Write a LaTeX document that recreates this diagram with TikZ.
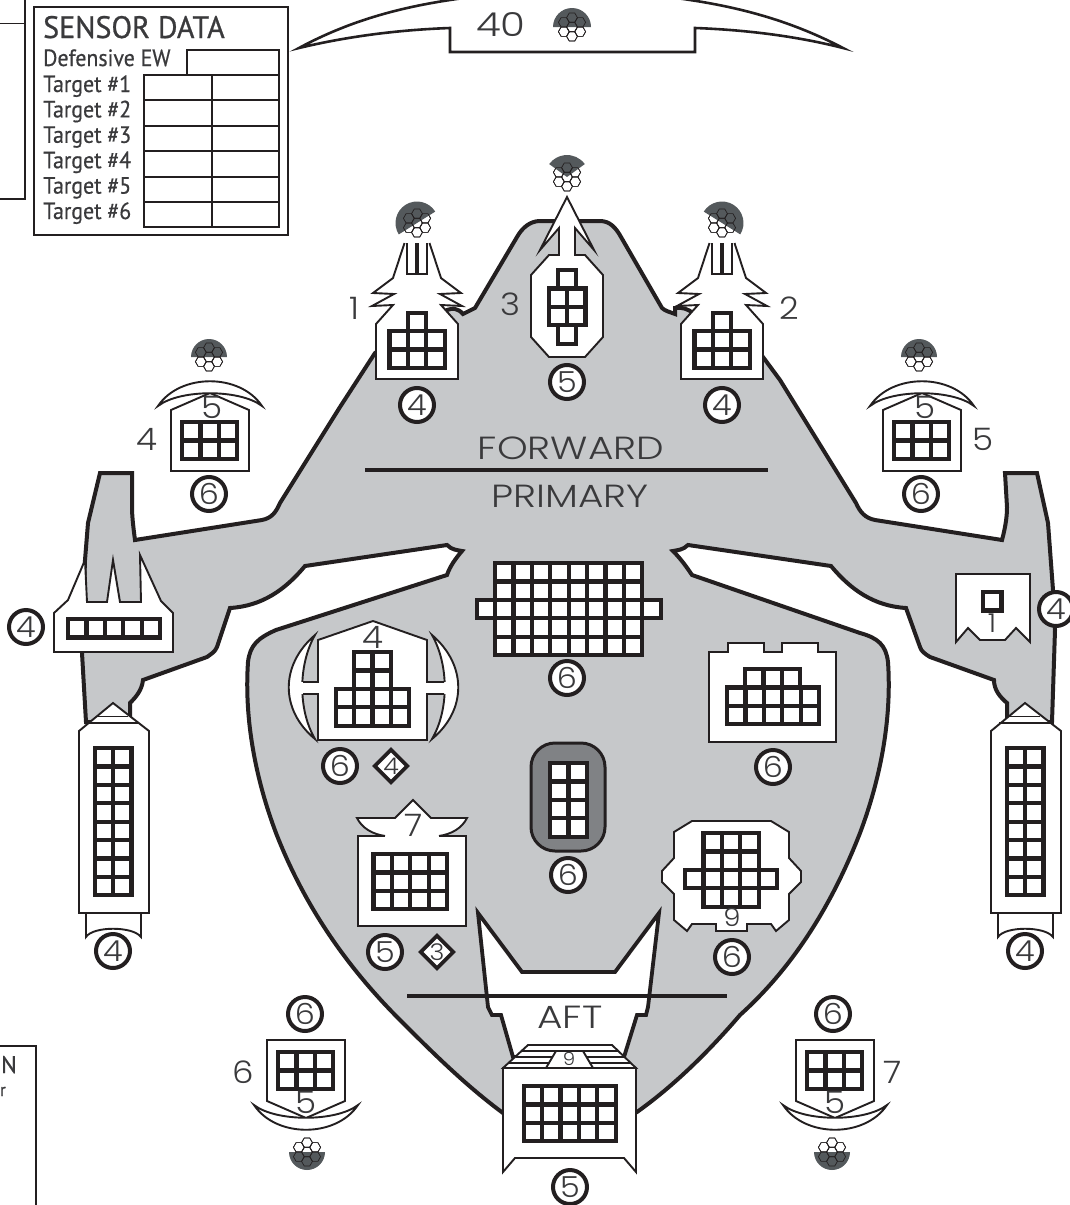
\documentclass[tikz,border=0pt]{standalone}
\usepackage{fontspec}
\usepackage{xcolor}
\usetikzlibrary{shapes.geometric}
\setmainfont{PT Sans}
\newfontfamily\gaunt[FakeStretch=1.1]{Poppins Light}
\newfontfamily\gauntwide[FakeStretch=1.22]{Poppins Light}
\newfontfamily\tabfont[FakeStretch=0.93,FakeBold=0.6]{PT Sans}
\newfontfamily\headfont[FakeStretch=0.97,FakeBold=0.8]{PT Sans}
\definecolor{cInk}{HTML}{231F20}
\definecolor{cHull}{HTML}{C6C8CA}
\definecolor{cCore}{HTML}{808285}
\definecolor{cGun}{HTML}{54595C}
\definecolor{cText}{HTML}{3A3A3C}
\tikzset{
  hullshape/.style={draw=cInk,fill=cHull,line width=4pt},
  aftshape/.style={draw=cInk,fill=white,line width=3.8pt},
  mountshape/.style={draw=cInk,fill=white,line width=1.9pt},
  edgeline/.style={draw=cInk,line width=1.9pt},
  divline/.style={draw=cInk,line width=3.8pt},
  cellline/.style={draw=cInk,fill=white,line width=4.2pt},
  thinline/.style={draw=cInk,line width=2pt},
  hexline/.style={draw=cInk,line width=0.7pt},
  numcirc/.style={circle,draw=cInk,fill=white,line width=4pt,minimum size=34pt,inner sep=0pt,
      text=cText,font=\gaunt\fontsize{29}{29}\selectfont},
  numdiam/.style={diamond,draw=cInk,fill=white,line width=3.6pt,minimum width=34pt,minimum height=34pt,
      inner sep=0pt,text=cText,font=\gaunt\fontsize{23}{23}\selectfont},
  numtext/.style={inner sep=0pt,text=cText,font=\gaunt\fontsize{31}{31}\selectfont},
  smalltext/.style={inner sep=0pt,text=cText,font=\gaunt\fontsize{18}{18}\selectfont},
  bigtext/.style={inner sep=0pt,text=cText,font=\gauntwide\fontsize{32}{32}\selectfont},
  tabtext/.style={inner sep=0pt,anchor=base west,text=cText,font=\tabfont\fontsize{23.5}{24}\selectfont},
}
\newcommand{\cellgrid}[4]{%
  \foreach \cc in {1,...,#3}{\foreach \rr in {1,...,#4}{
    \draw[cellline] ({#1+(\cc-1)*18.4},{#2+(\rr-1)*18.4}) rectangle ++(18.4,18.4);}}}
\newcommand{\hexgun}[5]{%
  \begin{scope}[shift={(#1,#2)},yscale=-1]
    \foreach \hx/\hy in {0/0,0/9.4,0/-9.4,8.2/4.7,8.2/-4.7,-8.2/4.7,-8.2/-4.7}
      \draw[hexline,fill=white,shift={(\hx,\hy)}] (0:5.4) -- (60:5.4) -- (120:5.4) -- (180:5.4)
        -- (240:5.4) -- (300:5.4) -- cycle;
    \fill[cGun] (0,0) -- (#3:#5) arc[start angle=#3,end angle=#4,radius=#5] -- cycle;
    \foreach \hx/\hy in {0/0,0/9.4,0/-9.4,8.2/4.7,8.2/-4.7,-8.2/4.7,-8.2/-4.7}
      \draw[hexline,shift={(\hx,\hy)}] (0:5.4) -- (60:5.4) -- (120:5.4) -- (180:5.4)
        -- (240:5.4) -- (300:5.4) -- cycle;
  \end{scope}}
\newcommand{\fwdmount}[1]{%
  \begin{scope}[shift={(#1,0)}]
    \filldraw[mountshape] (12.5,243) -- (24,278) -- (44,293) -- (23,294) -- (45,306) -- (24,305)
      -- (41,324) -- (41,379) -- (-41,379) -- (-41,324) -- (-24,305) -- (-45,306) -- (-23,294)
      -- (-44,293) -- (-24,278) -- (-12.5,243);
    \draw[edgeline] (10,243) -- (10,274) -- (-10,274) -- (-10,243);
    \draw[draw=cInk,line width=4pt] (0,243) -- (0,274);
    \cellgrid{-9.2}{312.6}{1}{1}
    \cellgrid{-27.6}{331}{3}{2}
  \end{scope}}
% side house: flip 1 points the fin up, flip -1 points it down
\newcommand{\sidehouse}[3]{%
  \begin{scope}[shift={(#1,#2)},yscale=#3]
    \filldraw[mountshape] (-39,39) -- (39,39) -- (39,-22) -- (0,-39) -- (-39,-22) -- cycle;
    \filldraw[mountshape] (-52,-26) .. controls (-30,-59) and (30,-59) .. (52,-26)
      .. controls (30,-43) and (-30,-43) .. cycle;
  \end{scope}}
\newcommand{\boom}[1]{%
  \begin{scope}[shift={(#1,0)}]
    \filldraw[mountshape] (-27,913) -- (-27,937) .. controls (-20,926) and (20,926) .. (28,937) -- (28,913);
    \filldraw[mountshape] (-34,731) -- (0,703) -- (36,731) -- (36,913) -- (-34,913) -- cycle;
    \draw[edgeline] (-15,716.5) -- (15,716.5) (-26,723) -- (26,723);
    \cellgrid{-18.4}{748}{2}{8}
  \end{scope}}
\begin{document}
\begin{tikzpicture}[x=1pt,y=-1pt]
  \useasboundingbox (0,0) rectangle (1070,1205);

  % hull
  \filldraw[hullshape] (540,221) -- (600,221) .. controls (610,221) and (616,228) .. (621,237)
    -- (662,308) .. controls (665,311) and (670,312) .. (675,314) -- (675,308)
    .. controls (682,307) and (688,309) .. (693,313) -- (763,357) -- (780,380) -- (856,503)
    .. controls (860,512) and (865,518) .. (875,520) -- (1002,540)
    .. controls (1006,525) and (1007,515) .. (1007,507) -- (1005,473) -- (1037,473) -- (1048,523)
    -- (1053,590) -- (1055,630) -- (1052,722) -- (1007,722) -- (1007,703)
    .. controls (1000,697) and (994,690) .. (994,680) -- (930,657)
    .. controls (925,654) and (921,651) .. (920,647) -- (906,608)
    .. controls (874,606) and (851,590) .. (831,566) -- (688,545)
    .. controls (683,550) and (678,550) .. (673,551) .. controls (680,558) and (686,566) .. (692,575)
    -- (860,633) .. controls (878,638) and (886,645) .. (888,662)
    .. controls (892,720) and (880,780) .. (860,833) .. controls (830,910) and (790,970) .. (740,1015)
    .. controls (710,1050) and (675,1085) .. (637,1112) -- (503,1113)
    .. controls (465,1085) and (430,1050) .. (400,1020) .. controls (350,970) and (306,910) .. (276,833)
    .. controls (256,780) and (244,720) .. (248,662) .. controls (250,645) and (258,638) .. (276,630)
    -- (447,575) .. controls (450,566) and (456,558) .. (462,551)
    .. controls (457,550) and (452,550) .. (447,545) -- (305,566)
    .. controls (285,590) and (262,606) .. (230,608) -- (217,647)
    .. controls (215,652) and (211,654) .. (207,657) -- (143,680)
    .. controls (142,690) and (136,697) .. (130,703) -- (130,722) -- (86,722) -- (82,653)
    -- (85,560) -- (88,523) -- (100,473) -- (132,473) -- (132,507)
    .. controls (132,515) and (133,525) .. (135,540) -- (262,520)
    .. controls (272,518) and (276,512) .. (280,503) -- (340,407) -- (375,353) -- (447,310)
    .. controls (452,308) and (458,308) .. (463,314) -- (475,308) -- (517,237)
    .. controls (522,228) and (530,221) .. (540,221) -- cycle;

  % top fin
  \filldraw[mountshape,line width=2.6pt] (299,48) .. controls (360,15) and (420,3) .. (480,-4) -- (660,-4)
    .. controls (720,3) and (780,15) .. (843,48) .. controls (800,37) and (750,30) .. (695,28)
    -- (695,52) -- (450,52) -- (450,28) .. controls (395,30) and (345,37) .. cycle;
  \node[bigtext,font=\gauntwide\fontsize{33}{33}\selectfont] (finval) at (501,25) {40};
  \hexgun{572}{27}{0}{180}{19}

  % aft section
  \filldraw[aftshape] (478,913) -- (522,972) -- (615,972) -- (659,913) -- (648,1007) -- (646,1015)
    -- (637,1015) -- (624,1057) -- (513,1057) -- (501,1015) -- (492,1015) -- (488,1007) -- cycle;
  \draw[divline] (407,996) -- (727,996);
  \draw[divline] (365,470) -- (768,470);
  \node[bigtext] (fwdtxt) at (571,448) {FORWARD};
  \node[bigtext] (pritxt) at (570,496) {PRIMARY};
  \node[bigtext] (afttxt) at (570,1017) {AFT};

  % forward mounts
  \fwdmount{417}
  \fwdmount{722}
  \hexgun{417}{223}{32}{212}{21.5}
  \hexgun{722}{223}{-32}{148}{21.5}
  \node[numtext] (lblA) at (354,308) {1};
  \node[numtext] (lblB) at (789,308) {2};
  \node[numcirc] (arA) at (417,405) {4};
  \node[numcirc] (arB) at (722,405) {4};

  % centre forward mount
  \filldraw[mountshape] (567,197) -- (594,250) -- (575,228) -- (575,255) -- (585,255) -- (603,275)
    -- (603,337) -- (585,357) -- (549,357) -- (531,337) -- (531,275) -- (549,255) -- (559,255)
    -- (559,228) -- (540,250) -- cycle;
  \cellgrid{557.8}{270}{1}{1}
  \cellgrid{548.6}{288.4}{2}{2}
  \cellgrid{557.8}{325.2}{1}{1}
  \hexgun{567}{177}{36}{144}{22}
  \node[numtext] (lblC) at (510,304) {3};
  \node[numcirc] (arC) at (567,382) {5};

  % side mounts
  \sidehouse{210}{432}{1}
  \cellgrid{182}{422}{3}{2}
  \hexgun{209}{357}{0}{180}{18}
  \node[numtext] (finD) at (212,407) {5};
  \node[numtext] (lblD) at (147,439) {4};
  \node[numcirc] (arD) at (209,494) {6};

  \sidehouse{922}{432}{1}
  \cellgrid{894}{422}{3}{2}
  \hexgun{919}{357}{0}{180}{18}
  \node[numtext] (finE) at (925,407) {5};
  \node[numtext] (lblE) at (983,439) {5};
  \node[numcirc] (arE) at (921,494) {6};

  \sidehouse{306}{1079}{-1}
  \cellgrid{278}{1052}{3}{2}
  \hexgun{307}{1152}{180}{360}{18}
  \node[numtext] (finF) at (306,1102) {5};
  \node[numtext] (lblF) at (243,1072) {6};
  \node[numcirc] (arF) at (305,1014) {6};

  \sidehouse{835}{1079}{-1}
  \cellgrid{807}{1052}{3}{2}
  \hexgun{832}{1152}{180}{360}{18}
  \node[numtext] (finG) at (835,1102) {5};
  \node[numtext] (lblG) at (893,1072) {7};
  \node[numcirc] (arG) at (833,1014) {6};

  % wing mounts
  \filldraw[mountshape] (85,560) -- (87,602) -- (107,602) -- (113,560) -- (120,602) -- (141,602)
    -- (140,555) -- (161,601) -- (173,613) -- (173,652) -- (54,652) -- (54,613) -- (68,600) -- cycle;
  \cellgrid{68}{619}{5}{1}
  \node[numcirc] (arH) at (26,627) {4};

  \filldraw[mountshape] (956,574) -- (1030,574) -- (1030,642) -- (1016,628) -- (1005,640) -- (980,640)
    -- (968,628) -- (956,642) -- cycle;
  \cellgrid{983}{592}{1}{1}
  \node[numtext,font=\gaunt\fontsize{26}{26}\selectfont] (boxJ) at (992,623) {1};
  \node[numcirc] (arJ) at (1056,609) {4};

  \boom{113}
  \boom{1025}
  \node[numcirc] (arK) at (113,951) {4};
  \node[numcirc] (arL) at (1025,951) {4};

  % primary
  \cellgrid{495}{563}{8}{2}
  \cellgrid{476.6}{599.8}{10}{1}
  \cellgrid{495}{618.2}{8}{2}
  \node[numcirc] (arM) at (567,678) {6};

  \filldraw[mountshape] (315,635) .. controls (280,665) and (280,710) .. (315,739)
    .. controls (298,710) and (298,665) .. cycle;
  \filldraw[mountshape] (432,635) .. controls (467,665) and (467,710) .. (432,739)
    .. controls (449,710) and (449,665) .. cycle;
  \fill[white] (318,740) -- (427,740) -- (427,694) -- (446,694) -- (446,682) -- (427,682) -- (427,640)
    -- (373,621) -- (318,640) -- (318,682) -- (301,682) -- (301,694) -- (318,694) -- cycle;
  \draw[edgeline] (303,682) -- (318,682) -- (318,640) -- (373,621) -- (427,640) -- (427,682) -- (444,682)
    (303,694) -- (318,694) -- (318,740) -- (427,740) -- (427,694) -- (444,694);
  \cellgrid{354}{652}{2}{2}
  \cellgrid{335.6}{688.8}{4}{2}
  \node[numtext] (finN) at (373,637) {4};
  \node[numcirc] (arN) at (340,766) {6};
  \node[numdiam] (dmN) at (391,766) {4};

  \filldraw[mountshape] (709,652) -- (728,652) -- (728,643) -- (764,643) -- (764,652) -- (782,652) -- (782,643)
    -- (818,643) -- (818,652) -- (836,652) -- (836,742) -- (709,742) -- cycle;
  \cellgrid{745}{669}{3}{1}
  \cellgrid{727}{687.4}{5}{2}
  \node[numcirc] (arO) at (773,767) {6};

  \filldraw[draw=cInk,fill=cCore,line width=3pt,rounded corners=24pt] (531,743) rectangle (605,851);
  \cellgrid{550}{763}{2}{4}
  \node[numcirc] (arP) at (568,875) {6};

  \filldraw[mountshape] (385,836) .. controls (372,834) and (362,828) .. (357,818) -- (395,818) -- (413,800)
    -- (431,818) -- (467,818) .. controls (462,828) and (452,834) .. (439,836);
  \filldraw[mountshape] (385,836) -- (358,836) -- (358,926) -- (466,926) -- (466,836) -- (439,836);
  \cellgrid{373.4}{854}{4}{3}
  \node[numtext] (finQ) at (414,825) {7};
  \node[numcirc] (arQ) at (385,952) {5};
  \node[numdiam] (dmQ) at (437,952) {3};

  \filldraw[mountshape] (692,821) -- (771,821) -- (789,832) -- (789,858) -- (801,871) -- (801,882) -- (789,894)
    -- (789,920) -- (776,931) -- (771,924) -- (747,924) -- (747,931) -- (716,931) -- (716,924) -- (692,924)
    -- (687,931) -- (674,920) -- (674,894) -- (662,882) -- (662,871) -- (674,858) -- (674,832) -- cycle;
  \cellgrid{703.4}{833}{3}{2}
  \cellgrid{685}{869.8}{5}{1}
  \cellgrid{703.4}{888.2}{3}{1}
  \node[numtext,font=\gaunt\fontsize{25}{25}\selectfont] (finR) at (732,917) {9};
  \node[numcirc] (arR) at (732,957) {6};

  % aft mount
  \filldraw[mountshape] (503,1068) -- (528,1045) -- (612,1045) -- (636,1068) -- cycle;
  \draw[edgeline] (522,1051) -- (618,1051) (516,1057) -- (624,1057) (509,1063) -- (631,1063);
  \filldraw[mountshape] (556,1051) -- (583,1051) -- (593,1068) -- (546,1068) -- cycle;
  \node[smalltext] (finS) at (569,1059) {9};
  \filldraw[mountshape] (503,1068) -- (636,1068) -- (636,1172) -- (624,1158) -- (515,1158) -- (503,1172) -- cycle;
  \cellgrid{523.6}{1086}{5}{3}
  \node[numcirc] (arS) at (570,1187) {5};

  % sensor table
  \draw[thinline] (34,7) rectangle (288,235);
  \node[tabtext,font=\headfont\fontsize{31}{31}\selectfont] (senhead) at (43,38) {SENSOR DATA};
  \node[tabtext] (defew) at (43,66) {Defensive EW};
  \draw[thinline] (187,74) -- (187,50) -- (279,50) -- (279,74);
  \foreach \tn/\ty in {1/75,2/100.4,3/125.8,4/151.2,5/176.6,6/202}{
    \draw[thinline] (144,\ty) rectangle (212,\ty+25.4);
    \draw[thinline] (212,\ty) rectangle (279,\ty+25.4);
    \node[tabtext] (tgt\tn) at (43,\ty+17) {Target \#\tn};
  }

  % neighbouring tables cut by the page
  \draw[thinline] (0,199) -- (25,199) -- (25,-2);
  \draw[draw=cInk,line width=1pt] (0,23) -- (25,23);
  \draw[thinline] (0,1046) -- (36,1046) -- (36,1207);
  \node[tabtext,anchor=base east,font=\headfont\fontsize{24}{24}\selectfont] (cutA) at (17,1073) {ON};
  \node[tabtext,anchor=base east,font=\tabfont\fontsize{18}{18}\selectfont] (cutB) at (6,1096) {r};
\end{tikzpicture}
\end{document}
